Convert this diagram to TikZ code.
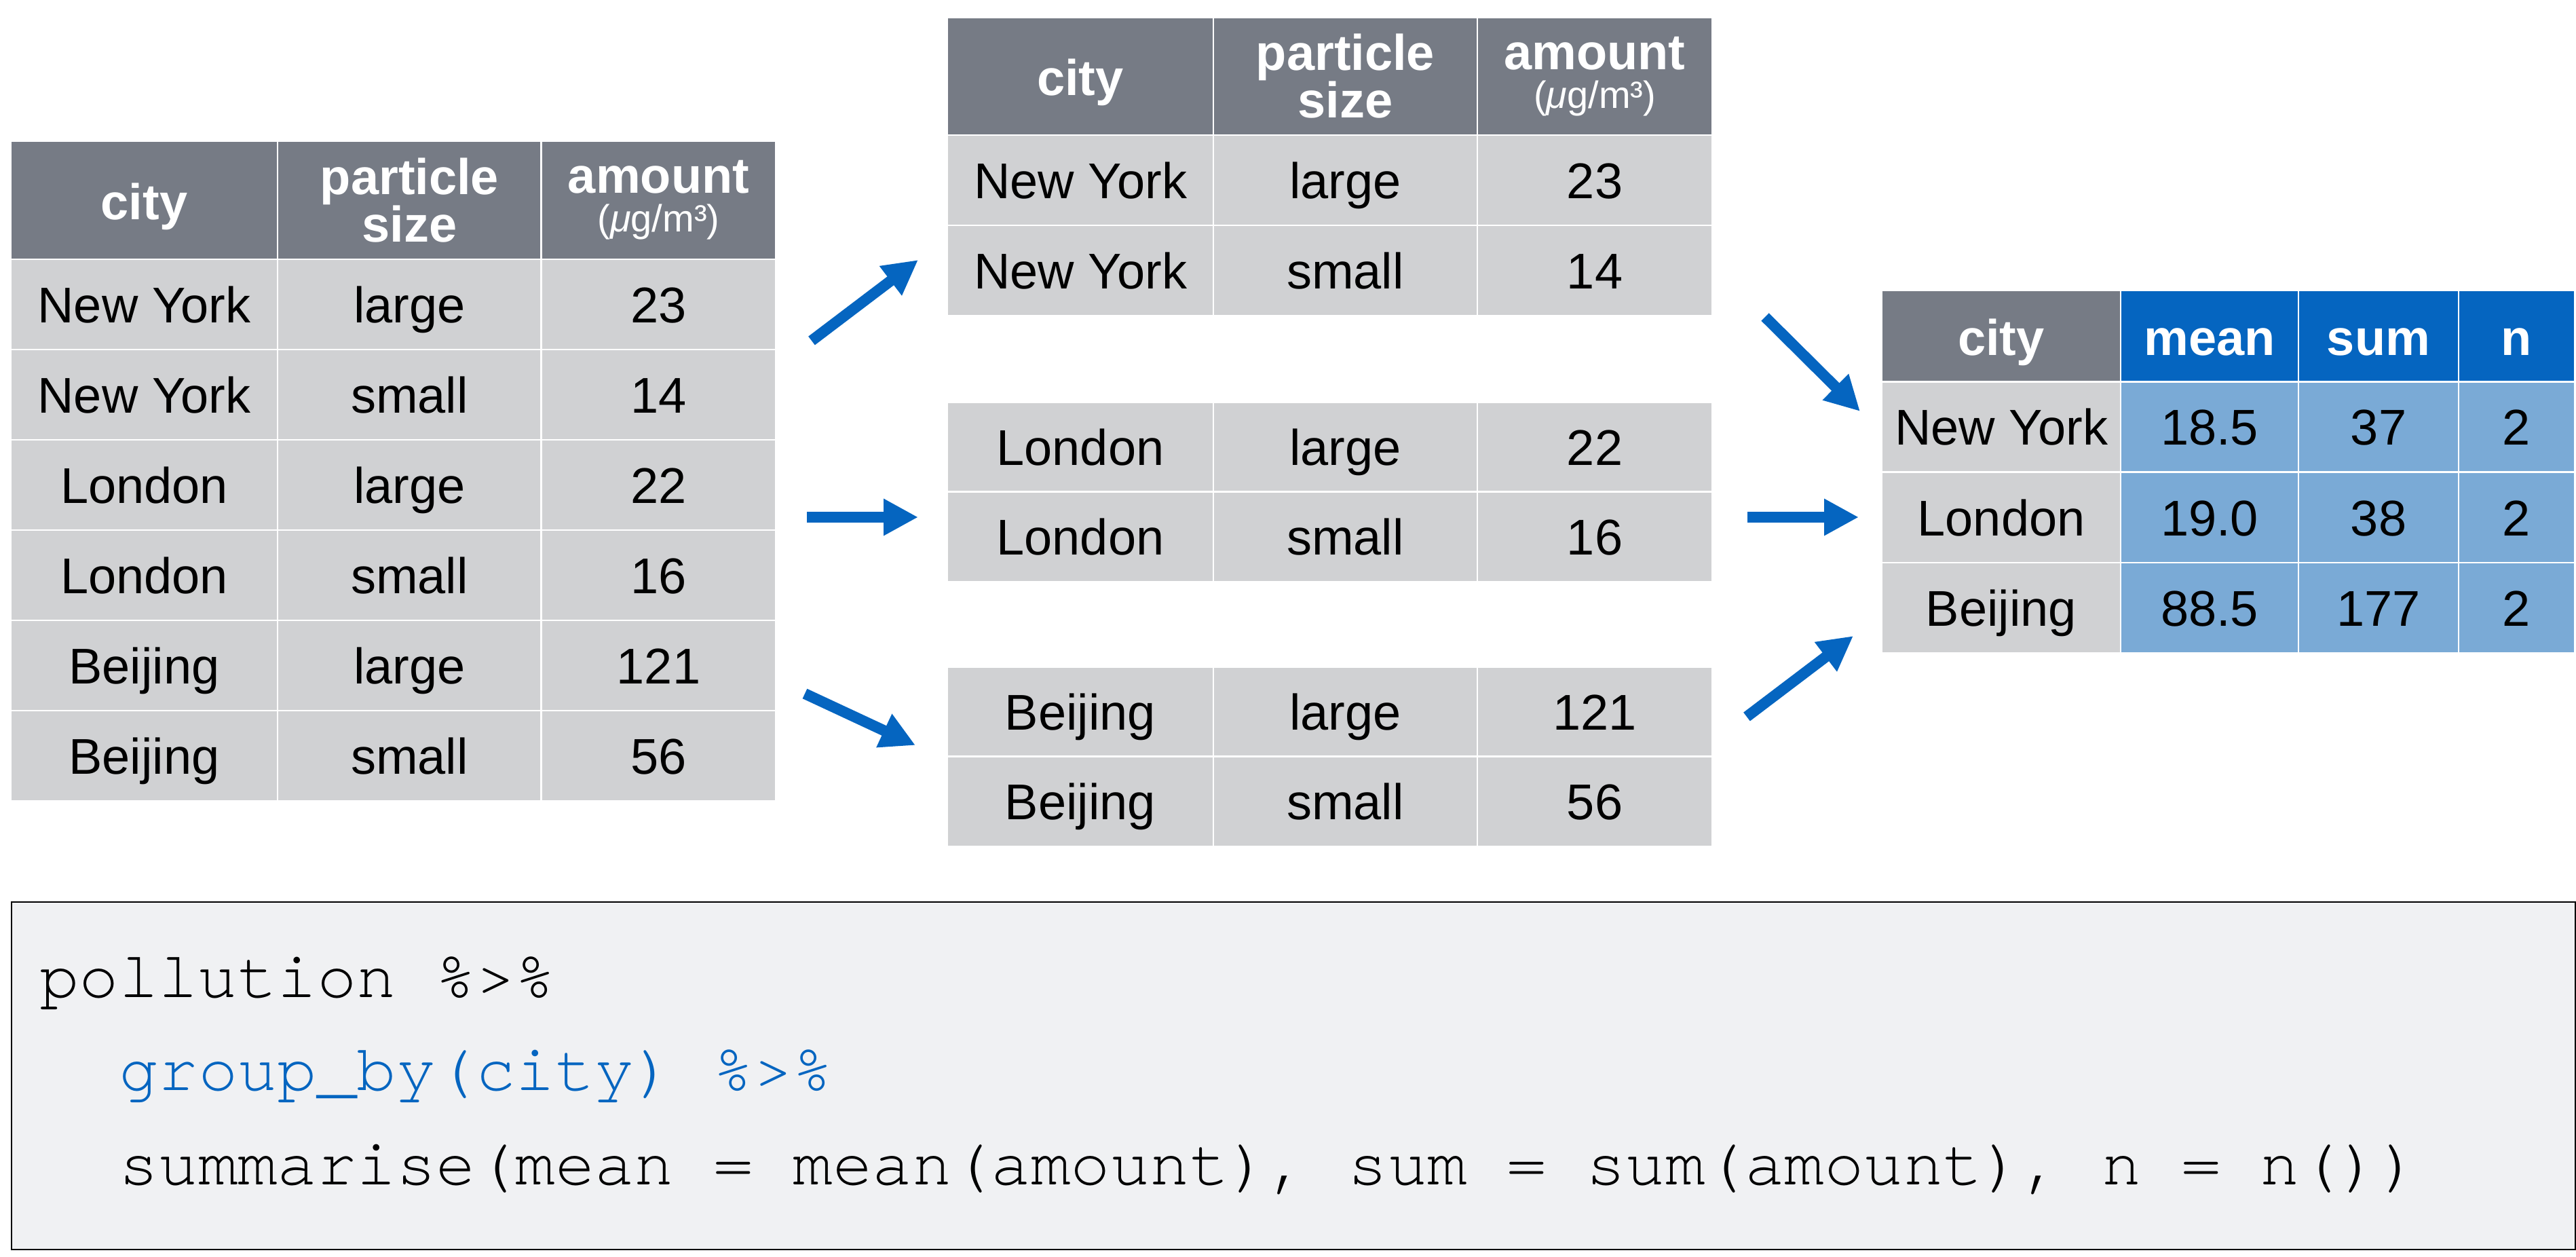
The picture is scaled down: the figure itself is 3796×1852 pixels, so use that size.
\documentclass[tikz,border=0pt]{standalone}
\usepackage{fontspec}
\setsansfont{Liberation Sans}
\setmonofont{TeX Gyre Cursor}
\usepackage{tikz}
\usetikzlibrary{arrows.meta}
\definecolor{hdgray}{RGB}{118,123,133}
\definecolor{cellgray}{RGB}{208,209,211}
\definecolor{sumblue}{RGB}{5,101,192}
\definecolor{lightblue}{RGB}{122,170,214}
\definecolor{codebg}{RGB}{240,241,243}

\begin{document}
\begin{tikzpicture}[x=1pt, y=-1pt,
  cell/.style={draw=white, line width=2.5pt, inner sep=0pt, outer sep=0pt},
  head/.style={cell, fill=hdgray, text=white, align=center, minimum height=174pt,
    font=\sffamily\bfseries\fontsize{74}{70}\selectfont},
  one/.style={text height=56pt, text depth=0pt},
  body/.style={cell, fill=cellgray, minimum height=133pt, text height=53pt, text depth=0pt,
    font=\sffamily\fontsize{74}{70}\selectfont},
  sumhead/.style={head, one, fill=sumblue, minimum height=134pt},
  sumbody/.style={body, fill=lightblue},
  ca/.style={minimum width=393pt}, cb/.style={minimum width=389pt}, cc/.style={minimum width=346pt},
  flow/.style={sumblue, line width=16pt, -{Triangle[length=51pt, width=51pt]}},
  code/.style={anchor=base west, inner sep=0pt, font=\ttfamily\fontsize{97.4}{110}\selectfont}]
\useasboundingbox (0,0) rectangle (3796,1852);
% input table
\node [head, one, ca] (src-h1) at (212.5,295) {city};
\node [head, cb] (src-h2) at (603.5,295) {particle\\size};
\node [head, cc] (src-h3) at (970.5,295) {amount\\[-13pt]{\mdseries\fontsize{56}{56}\selectfont(\textit{μ}g/m³)}};
\node [body, ca] (src-11) at (212.5,448.5) {New York};
\node [body, cb] (src-12) at (603.5,448.5) {large};
\node [body, cc] (src-13) at (970.5,448.5) {23};
\node [body, ca] (src-21) at (212.5,581.5) {New York};
\node [body, cb] (src-22) at (603.5,581.5) {small};
\node [body, cc] (src-23) at (970.5,581.5) {14};
\node [body, ca] (src-31) at (212.5,714.5) {London};
\node [body, cb] (src-32) at (603.5,714.5) {large};
\node [body, cc] (src-33) at (970.5,714.5) {22};
\node [body, ca] (src-41) at (212.5,847.5) {London};
\node [body, cb] (src-42) at (603.5,847.5) {small};
\node [body, cc] (src-43) at (970.5,847.5) {16};
\node [body, ca] (src-51) at (212.5,980.5) {Beijing};
\node [body, cb] (src-52) at (603.5,980.5) {large};
\node [body, cc] (src-53) at (970.5,980.5) {121};
\node [body, ca] (src-61) at (212.5,1113.5) {Beijing};
\node [body, cb] (src-62) at (603.5,1113.5) {small};
\node [body, cc] (src-63) at (970.5,1113.5) {56};
% grouped tables
\node [head, one, ca] (grp-h1) at (1592,112.5) {city};
\node [head, cb] (grp-h2) at (1982.5,112.5) {particle\\size};
\node [head, cc] (grp-h3) at (2350,112.5) {amount\\[-13pt]{\mdseries\fontsize{56}{56}\selectfont(\textit{μ}g/m³)}};
\node [body, ca] (ny-11) at (1592,265.5) {New York};
\node [body, cb] (ny-12) at (1982.5,265.5) {large};
\node [body, cc] (ny-13) at (2350,265.5) {23};
\node [body, ca] (ny-21) at (1592,398.5) {New York};
\node [body, cb] (ny-22) at (1982.5,398.5) {small};
\node [body, cc] (ny-23) at (2350,398.5) {14};
\node [body, ca] (ldn-11) at (1592,659) {London};
\node [body, cb] (ldn-12) at (1982.5,659) {large};
\node [body, cc] (ldn-13) at (2350,659) {22};
\node [body, ca] (ldn-21) at (1592,791) {London};
\node [body, cb] (ldn-22) at (1982.5,791) {small};
\node [body, cc] (ldn-23) at (2350,791) {16};
\node [body, ca] (bj-11) at (1592,1049) {Beijing};
\node [body, cb] (bj-12) at (1982.5,1049) {large};
\node [body, cc] (bj-13) at (2350,1049) {121};
\node [body, ca] (bj-21) at (1592,1181) {Beijing};
\node [body, cb] (bj-22) at (1982.5,1181) {small};
\node [body, cc] (bj-23) at (2350,1181) {56};
% summary table
\node [head, one, minimum height=134pt, minimum width=352pt] (res-h1) at (2949,495) {city};
\node [sumhead, minimum width=262pt] (res-h2) at (3256,495) {mean};
\node [sumhead, minimum width=236pt] (res-h3) at (3505,495) {sum};
\node [sumhead, minimum width=171pt] (res-h4) at (3708.5,495) {n};
\node [body, minimum width=352pt] (res-11) at (2949,629) {New York};
\node [sumbody, minimum width=262pt] (res-12) at (3256,629) {18.5};
\node [sumbody, minimum width=236pt] (res-13) at (3505,629) {37};
\node [sumbody, minimum width=171pt] (res-14) at (3708.5,629) {2};
\node [body, minimum width=352pt] (res-21) at (2949,762.5) {London};
\node [sumbody, minimum width=262pt] (res-22) at (3256,762.5) {19.0};
\node [sumbody, minimum width=236pt] (res-23) at (3505,762.5) {38};
\node [sumbody, minimum width=171pt] (res-24) at (3708.5,762.5) {2};
\node [body, minimum width=352pt] (res-31) at (2949,895.5) {Beijing};
\node [sumbody, minimum width=262pt] (res-32) at (3256,895.5) {88.5};
\node [sumbody, minimum width=236pt] (res-33) at (3505,895.5) {177};
\node [sumbody, minimum width=171pt] (res-34) at (3708.5,895.5) {2};
% arrows
\coordinate (a1s) at (1196,502);
\coordinate (a1e) at (1353,383);
\coordinate (a2s) at (1189,762);
\coordinate (a2e) at (1353,762);
\coordinate (a3s) at (1186,1022);
\coordinate (a3e) at (1349,1098);
\coordinate (a4s) at (2601,467);
\coordinate (a4e) at (2741,606);
\coordinate (a5s) at (2575,762);
\coordinate (a5e) at (2739,762);
\coordinate (a6s) at (2574,1056);
\coordinate (a6e) at (2731,937);
\draw [flow] (a1s) -- (a1e);
\draw [flow] (a2s) -- (a2e);
\draw [flow] (a3s) -- (a3e);
\draw [flow] (a4s) -- (a4e);
\draw [flow] (a5s) -- (a5e);
\draw [flow] (a6s) -- (a6e);
% code
\draw [fill=codebg, line width=2pt] (17,1329) rectangle (3795,1841);
\node [code] (code1) at (58,1469) {pollution \%>\%};
\node [code, text=sumblue] (code2) at (175,1606) {group\_by(city) \%>\%};
\node [code] (code3) at (175,1745) {summarise(mean = mean(amount), sum = sum(amount), n = n())};
\end{tikzpicture}
\end{document}
